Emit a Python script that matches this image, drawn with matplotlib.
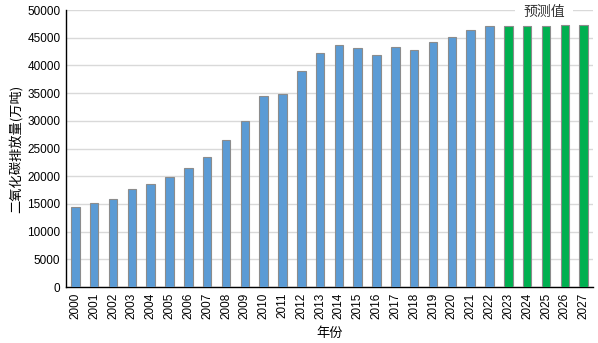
import matplotlib
matplotlib.use("Agg")
import matplotlib.pyplot as plt

years = [str(y) for y in range(2000, 2028)]
emissions = [14400, 15100, 15900, 17650, 18600, 19850, 21500, 23500, 26550, 29950,
             34480, 34800, 39050, 42300, 43700, 43200, 41850, 43350, 42850, 44200,
             45100, 46400, 47200, 47200, 47200, 47200, 47350, 47350]
is_forecast = [y >= 2023 for y in range(2000, 2028)]
yticks = [0, 5000, 10000, 15000, 20000, 25000, 30000, 35000, 40000, 45000, 50000]

plt.rcParams['font.family'] = ['Liberation Sans', 'Noto Sans CJK SC']

fig = plt.figure(figsize=(5.98, 3.43), dpi=100)
ax = fig.add_axes([66/598, 1-287/343, 527/598, 277/343])

colors = ['#00B050' if f else '#5B9BD5' for f in is_forecast]
x = list(range(len(years)))
ax.bar(x, emissions, width=0.45, color=colors, edgecolor='#8C8C8C', linewidth=0.8, zorder=3)

ax.set_xlim(-0.5, len(years) - 0.5)
ax.set_ylim(0, 50000)
ax.set_yticks(yticks)
ax.set_yticklabels([str(v) for v in yticks], fontsize=8.5)
ax.set_xticks(x)
ax.set_xticklabels(years, rotation=90, fontsize=8.5)
ax.tick_params(axis='both', length=0, pad=4)
ax.grid(axis='y', color='#D9D9D9', linewidth=1.0, zorder=0)
for s in ['top', 'right']:
    ax.spines[s].set_visible(False)
ax.spines['left'].set_color('black')
ax.spines['bottom'].set_color('black')
ax.spines['left'].set_linewidth(1.0)
ax.spines['bottom'].set_linewidth(1.0)

ax.set_ylabel('二氧化碳排放量(万吨)', family=['Noto Sans CJK SC', 'DejaVu Sans'], fontsize=9.5, labelpad=3)
fig.text(330/598, 1-333/343, '年份', family=['Noto Sans CJK SC', 'DejaVu Sans'], fontsize=9.5,
         ha='center', va='center')
ax.text(24.9, 49650, '预测值', family=['Noto Sans CJK SC', 'DejaVu Sans'], fontsize=10,
        ha='center', va='center', color='#333333',
        bbox=dict(facecolor='white', edgecolor='none', pad=6), zorder=2.5, clip_on=False)

fig.savefig('out.png', dpi=100)
